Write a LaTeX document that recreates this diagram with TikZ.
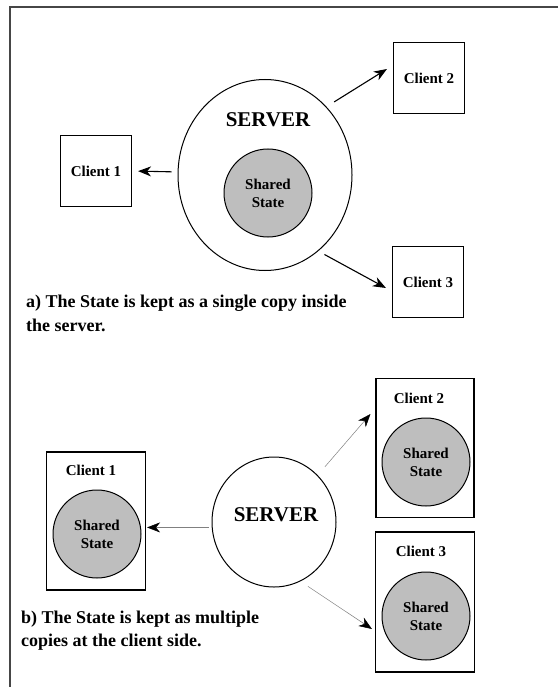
\documentclass[tikz,border=0pt]{standalone}
\usepackage{fontspec}
\setmainfont{Liberation Serif}
\usetikzlibrary{arrows.meta}
\usetikzlibrary{shapes.geometric, calc}
\usepackage{xcolor}

\definecolor{stategray}{RGB}{190,190,190}
\definecolor{framegray}{RGB}{70,70,70}

\begin{document}
\begin{tikzpicture}[x=1pt, y=-1pt, font=\bfseries,
    client/.style={draw=black, line width=1.1pt, inner sep=0pt},
    server/.style={ellipse, draw=black, line width=1pt, inner sep=0pt},
    shared/.style={circle, draw=black, line width=1pt, fill=stategray, minimum size=88pt,
      inner sep=0pt, align=center, font=\bfseries\fontsize{15}{18}\selectfont},
    lbl/.style={inner sep=0pt, font=\bfseries\fontsize{15}{18}\selectfont},
    srvtext/.style={inner sep=0pt, font=\bfseries\fontsize{21}{25}\selectfont},
    caption/.style={anchor=north west, align=left, inner sep=0pt},
    arrA/.style={-{Stealth[length=13pt, width=10pt, inset=4pt]}, line width=1.1pt},
    arrB/.style={-{Stealth[black, length=13pt, width=10pt, inset=4pt]}, gray, line width=0.5pt}]

      \useasboundingbox (0,0) rectangle (559,687);

      % frame
      \draw[framegray, line width=2pt] (558,7) -- (10,7) -- (10,687);

      % a) single copy
      \node[server, minimum width=174pt, minimum height=191pt] (srvA) at (265,175) {};
      \node[srvtext] (srvAtext) at (268,120) {SERVER};
      \node[shared] (stateA) at (268,193) {Shared\\State};

      \node[client, minimum size=71pt] (clA1) at (96,171) {\fontsize{15}{18}\selectfont Client 1};
      \node[client, minimum size=71pt] (clA2) at (429,78) {\fontsize{15}{18}\selectfont Client 2};
      \node[client, minimum size=71pt] (clA3) at (428,282) {\fontsize{15}{18}\selectfont Client 3};

      \draw[arrA, shorten <=6pt, shorten >=6pt] (srvA.178) -- (clA1.east);
      \draw[arrA, shorten <=9pt] (srvA.48) -- ($(clA2.west)+(-6,-9)$);
      \draw[arrA, shorten <=7pt] (srvA.-55) -- ($(clA3.west)+(-6,6)$);

      \node[caption, font=\bfseries\fontsize{18}{23.5}\selectfont] (capA) at (26,295)
        {a) The State is kept as a single copy inside\\the server.};

      % b) multiple copies
      \node[server, minimum width=124pt, minimum height=130pt] (srvB) at (274,522) {};
      \node[srvtext] (srvBtext) at (276,515) {SERVER};

      \node[client, minimum width=99pt, minimum height=138pt] (clB1) at (96,521) {};
      \node[lbl] (lblB1) at (91,470) {Client 1};
      \node[shared] (stateB1) at (97,534) {Shared\\State};

      \node[client, minimum width=98pt, minimum height=139pt] (clB2) at (425,448) {};
      \node[lbl] (lblB2) at (419,398) {Client 2};
      \node[shared] (stateB2) at (426,462) {Shared\\State};

      \node[client, minimum width=99pt, minimum height=140pt] (clB3) at (425,602) {};
      \node[lbl] (lblB3) at (421,551) {Client 3};
      \node[shared] (stateB3) at (426,616) {Shared\\State};

      \draw[arrB, shorten <=3pt, shorten >=1pt] (srvB.185) -- (srvB.185 -| clB1.east);
      \draw[arrB, shorten <=11pt] (srvB.47) -- ($(clB2.west)+(-5,-34)$);
      \draw[arrB, shorten <=9pt] (srvB.-66) -- ($(clB3.west)+(-3,27)$);

      \node[caption, font=\bfseries\fontsize{18}{23}\selectfont] (capB) at (21,611)
        {b) The State is kept as multiple\\copies at the client side.};

    \end{tikzpicture}
\end{document}
